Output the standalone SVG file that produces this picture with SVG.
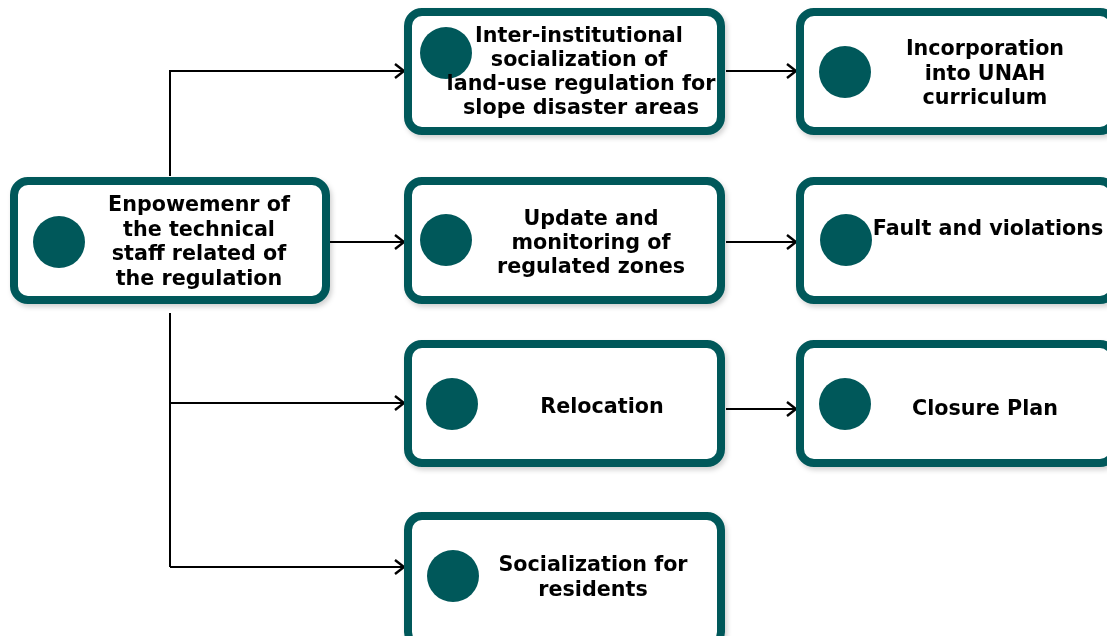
<svg xmlns="http://www.w3.org/2000/svg" width="1107" height="636" viewBox="0 0 1107 636">
  <style>
    .box { fill: #ffffff; stroke: #03585a; stroke-width: 8; }
    .dot { fill: #03585a; }
    .lbl { font-family: "DejaVu Sans", "Liberation Sans", sans-serif; font-weight: bold; font-size: 20.7px; fill: #050505; text-anchor: middle; }
    .wire { fill: none; stroke: #000000; stroke-width: 2; }
  </style>
  <defs>
    <marker id="chev" viewBox="0 0 12 16" refX="11" refY="8" markerWidth="12" markerHeight="16" markerUnits="userSpaceOnUse" orient="auto">
      <path d="M2,1 L11,8 L2,15" fill="none" stroke="#000000" stroke-width="2.4"/>
    </marker>
    <filter id="shade" x="-10%" y="-10%" width="125%" height="130%">
      <feDropShadow dx="2" dy="3" stdDeviation="2.5" flood-color="#000000" flood-opacity="0.18"/>
    </filter>
  </defs>
  <rect width="1107" height="636" fill="#ffffff"/>

  <!-- links between the boxes -->
  <g id="connectors">
    <path class="wire" d="M170,176 V71 H404" marker-end="url(#chev)"/>
    <path class="wire" d="M330,242 H404" marker-end="url(#chev)"/>
    <path class="wire" d="M170,313 V567"/>
    <path class="wire" d="M170,403 H404" marker-end="url(#chev)"/>
    <path class="wire" d="M170,567 H404" marker-end="url(#chev)"/>
    <path class="wire" d="M726,71 H796" marker-end="url(#chev)"/>
    <path class="wire" d="M726,242 H796" marker-end="url(#chev)"/>
    <path class="wire" d="M726,409 H796" marker-end="url(#chev)"/>
  </g>

  <g id="n-empowerment" filter="url(#shade)">
    <rect class="box" x="14" y="181" width="312" height="119" rx="14"/>
    <circle class="dot" cx="59" cy="242" r="26"/>
    <text class="lbl" x="199" y="211">Enpowemenr of</text>
    <text class="lbl" x="199" y="236">the technical</text>
    <text class="lbl" x="199" y="260">staff related of</text>
    <text class="lbl" x="199" y="285">the regulation</text>
  </g>

  <g id="n-interinstitutional" filter="url(#shade)">
    <rect class="box" x="408" y="12" width="313" height="119" rx="14"/>
    <circle class="dot" cx="446" cy="53" r="26"/>
    <text class="lbl" x="579" y="42">Inter-institutional</text>
    <text class="lbl" x="579" y="66">socialization  of</text>
    <text class="lbl" x="581" y="90">land-use regulation for</text>
    <text class="lbl" x="581" y="114">slope disaster areas</text>
  </g>

  <g id="n-incorporation" filter="url(#shade)">
    <rect class="box" x="800" y="12" width="314" height="119" rx="14"/>
    <circle class="dot" cx="845" cy="72" r="26"/>
    <text class="lbl" x="985" y="55">Incorporation</text>
    <text class="lbl" x="985" y="80">into UNAH</text>
    <text class="lbl" x="985" y="104">curriculum</text>
  </g>

  <g id="n-update" filter="url(#shade)">
    <rect class="box" x="408" y="181" width="313" height="119" rx="14"/>
    <circle class="dot" cx="446" cy="240" r="26"/>
    <text class="lbl" x="591" y="225">Update and</text>
    <text class="lbl" x="591" y="249">monitoring of</text>
    <text class="lbl" x="591" y="273">regulated zones</text>
  </g>

  <g id="n-fault" filter="url(#shade)">
    <rect class="box" x="800" y="181" width="314" height="119" rx="14"/>
    <circle class="dot" cx="846" cy="240" r="26"/>
    <text class="lbl" x="988" y="235">Fault and violations</text>
  </g>

  <g id="n-relocation" filter="url(#shade)">
    <rect class="box" x="408" y="344" width="313" height="119" rx="14"/>
    <circle class="dot" cx="452" cy="404" r="26"/>
    <text class="lbl" x="602" y="413">Relocation</text>
  </g>

  <g id="n-closure" filter="url(#shade)">
    <rect class="box" x="800" y="344" width="314" height="119" rx="14"/>
    <circle class="dot" cx="845" cy="404" r="26"/>
    <text class="lbl" x="985" y="415">Closure Plan</text>
  </g>

  <g id="n-residents" filter="url(#shade)">
    <rect class="box" x="408" y="516" width="313" height="130" rx="14"/>
    <circle class="dot" cx="453" cy="576" r="26"/>
    <text class="lbl" x="593" y="571">Socialization for</text>
    <text class="lbl" x="593" y="596">residents</text>
  </g>
</svg>
